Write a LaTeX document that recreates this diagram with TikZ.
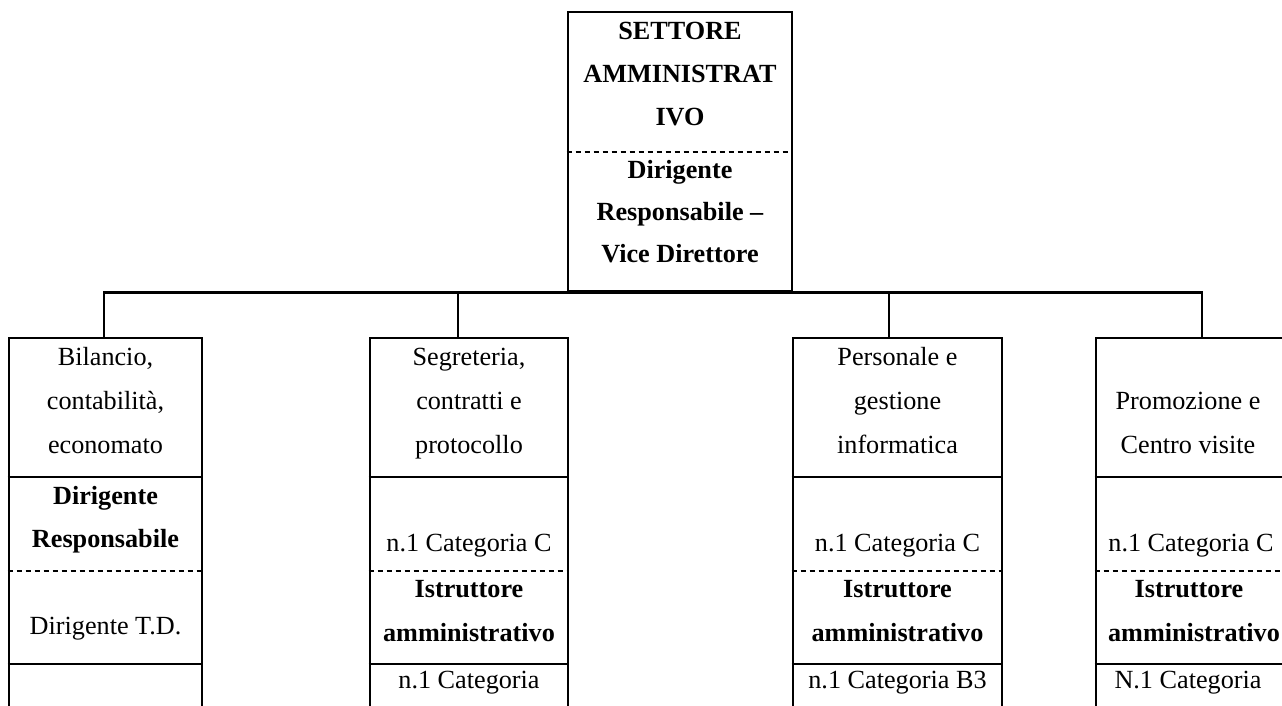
\documentclass[tikz,border=0pt]{standalone}
\usepackage{fontspec}
\setmainfont{Liberation Serif}
\begin{document}
\begin{tikzpicture}[x=1pt,y=-1pt,
  box/.style={draw,line width=2.8pt,rectangle,inner sep=0pt},
  solidline/.style={line width=2.8pt},
  dashline/.style={line width=1.9pt,dash pattern=on 5.5pt off 3.5pt},
  conn/.style={line width=2.8pt},
  txt/.style={anchor=base,inner sep=0pt,font=\fontsize{26.2}{30}\selectfont},
  btxt/.style={txt,font=\fontsize{26.2}{30}\selectfont\bfseries}]
\useasboundingbox (0,0) rectangle (1282,706);
% boxes
\node[box,minimum width=224pt,minimum height=279pt] (top) at (680,151.5) {};
\node[box,minimum width=193pt,minimum height=382pt] (b1) at (105.5,529) {};
\node[box,minimum width=198pt,minimum height=382pt] (b2) at (469,529) {};
\node[box,minimum width=209pt,minimum height=382pt] (b3) at (897.5,529) {};
\node[box,minimum width=188pt,minimum height=382pt] (b4) at (1190,529) {};
% dividers
\draw[dashline] (top.west |- 0,152) -- (top.east |- 0,152);
\foreach \b in {b1,b2,b3,b4}{
  \draw[solidline] (\b.west |- 0,477) -- (\b.east |- 0,477);
  \draw[dashline] (\b.west |- 0,571) -- (\b.east |- 0,571);
  \draw[solidline] (\b.west |- 0,664) -- (\b.east |- 0,664);
}
% connectors
\draw[conn] (top.south) -| ([xshift=-1.5pt]b1.north);
\draw[conn] (top.south) -| ([xshift=-11pt]b2.north);
\draw[conn] (top.south) -| ([xshift=-8.5pt]b3.north);
\draw[conn] (top.south) -| ([xshift=12pt]b4.north);
% top texts
\node[btxt] (t1) at (680,40) {SETTORE};
\node[btxt] (t2) at (680,83) {AMMINISTRAT};
\node[btxt] (t3) at (680,125) {IVO};
\node[btxt] (t4) at (680,178) {Dirigente};
\node[btxt] (t5) at (680,220) {Responsabile –};
\node[btxt] (t6) at (680,262) {Vice Direttore};
% box 1
\node[txt] (a1) at (105.5,365) {Bilancio,};
\node[txt] (a2) at (105.5,409) {contabilità,};
\node[txt] (a3) at (105.5,453) {economato};
\node[btxt] (a4) at (105.5,504) {Dirigente};
\node[btxt] (a5) at (105.5,547) {Responsabile};
\node[txt] (a6) at (105.5,634) {Dirigente T.D.};
% box 2
\node[txt] (s1) at (469,365) {Segreteria,};
\node[txt] (s2) at (469,409) {contratti e};
\node[txt] (s3) at (469,453) {protocollo};
\node[txt] (s4) at (469,551) {n.1 Categoria C};
\node[btxt] (s5) at (469,597) {Istruttore};
\node[btxt] (s6) at (469,641) {amministrativo};
\node[txt] (s7) at (469,688) {n.1 Categoria};
% box 3
\node[txt] (p1) at (897.5,365) {Personale e};
\node[txt] (p2) at (897.5,409) {gestione};
\node[txt] (p3) at (897.5,453) {informatica};
\node[txt] (p4) at (897.5,551) {n.1 Categoria C};
\node[btxt] (p5) at (897.5,597) {Istruttore};
\node[btxt] (p6) at (897.5,641) {amministrativo};
\node[txt] (p7) at (897.5,688) {n.1 Categoria B3};
% box 4
\node[txt] (q1) at (1188,409) {Promozione e};
\node[txt] (q2) at (1188,453) {Centro visite};
\node[txt] (q3) at (1191,551) {n.1 Categoria C};
\node[btxt] (q4) at (1189,597) {Istruttore};
\node[btxt] (q5) at (1194,641) {amministrativo};
\node[txt] (q6) at (1188,688) {N.1 Categoria};
\end{tikzpicture}
\end{document}
